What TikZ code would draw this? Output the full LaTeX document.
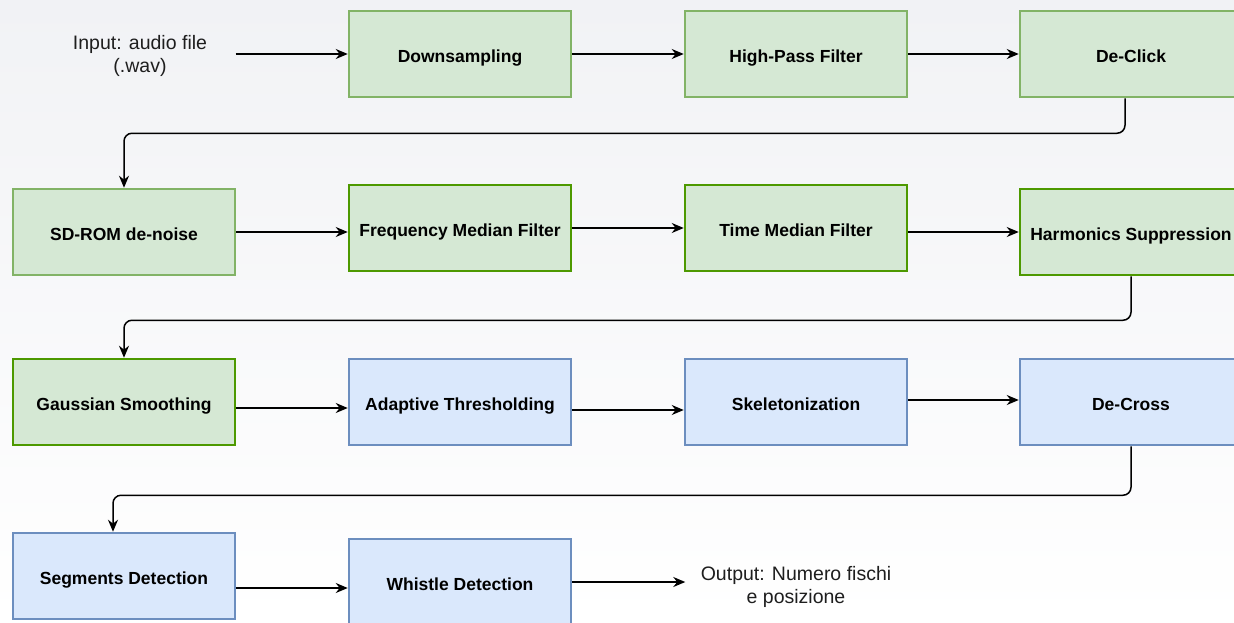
\documentclass[tikz,border=0pt]{standalone}
\usepackage{fontspec}
\setmainfont{Liberation Sans}
\usepackage{xcolor}
\usepackage{tikz}
\usetikzlibrary{arrows.meta,calc}
\definecolor{greenfill}{HTML}{D5E8D4}
\definecolor{greenline}{HTML}{82B366}
\definecolor{darkgreenline}{HTML}{4D9900}
\definecolor{bluefill}{HTML}{DAE8FC}
\definecolor{blueline}{HTML}{6C8EBF}
\definecolor{bgtop}{HTML}{F1F2F5}
\definecolor{labelgray}{HTML}{1E1E1E}

\begin{document}
\begin{tikzpicture}[x=1pt,y=-1pt,
    box/.style={draw,line width=2.5pt,minimum width=222pt,minimum height=86pt,inner sep=0pt,
      text height=16pt,text depth=0pt,font=\bfseries\fontsize{17.5}{20}\selectfont},
    gbox/.style={box,fill=greenfill,draw=greenline},
    dgbox/.style={box,fill=greenfill,draw=darkgreenline},
    bbox/.style={box,fill=bluefill,draw=blueline},
    txt/.style={align=center,text=labelgray,font=\fontsize{19.5}{23.5}\selectfont},
    conn/.style={line width=1.5pt,-{Stealth[length=12pt,width=10pt]}}]
  \clip (0,0) rectangle (1234,622);
  \shade[top color=bgtop,bottom color=white] (0,0) rectangle (1234,622);
  \node[txt] (in) at (140,56) {Input: audio file\\(.wav)};
  \node[gbox] (ds) at (460,54) {Downsampling};
  \node[gbox] (hp) at (796,54) {High-Pass Filter};
  \node[gbox] (dc) at (1131,54) {De-Click};
  \node[gbox] (sd) at (124,232) {SD-ROM de-noise};
  \node[dgbox] (fm) at (460,228) {Frequency Median Filter};
  \node[dgbox] (tm) at (796,228) {Time Median Filter};
  \node[dgbox] (hs) at (1131,232) {Harmonics Suppression};
  \node[dgbox] (gs) at (124,402) {Gaussian Smoothing};
  \node[bbox] (at) at (460,402) {Adaptive Thresholding};
  \node[bbox] (sk) at (796,402) {Skeletonization};
  \node[bbox] (dx) at (1131,402) {De-Cross};
  \node[bbox] (sg) at (124,576) {Segments Detection};
  \node[bbox] (wd) at (460,582) {Whistle Detection};
  \node[txt] (out) at (796,587) {Output: Numero fischi\\e posizione};
  \draw[conn] (in.east) ++(25,-2) coordinate (inend) -- (inend -| ds.west);
  \draw[conn] (ds.east) -- (hp.west);
  \draw[conn] (hp.east) -- (dc.west);
  \draw[conn,rounded corners=8pt] ([xshift=-6pt]dc.south) -- ++(0,35) -| (sd.north);
  \draw[conn] (sd.east) -- (sd.east -| fm.west);
  \draw[conn] (fm.east) -- (tm.west);
  \draw[conn] (tm.east |- hs.west) -- (hs.west);
  \draw[conn,rounded corners=8pt] (hs.south) -- ++(0,44) -| (gs.north);
  \draw[conn] ([yshift=-6pt]gs.east) -- ([yshift=-6pt]gs.east -| at.west);
  \draw[conn] ([yshift=-8pt]at.east) -- ([yshift=-8pt]at.east -| sk.west);
  \draw[conn] ([yshift=2pt]sk.east) -- ([yshift=2pt]sk.east -| dx.west);
  \draw[conn,rounded corners=8pt] (dx.south) -- ++(0,49) -| ([xshift=-11pt]sg.north);
  \draw[conn] ([yshift=-12pt]sg.east) -- ([yshift=-12pt]sg.east -| wd.west);
  \draw[conn] (wd.east) -- ([xshift=-12pt]wd.east -| out.west);
\end{tikzpicture}
\end{document}
